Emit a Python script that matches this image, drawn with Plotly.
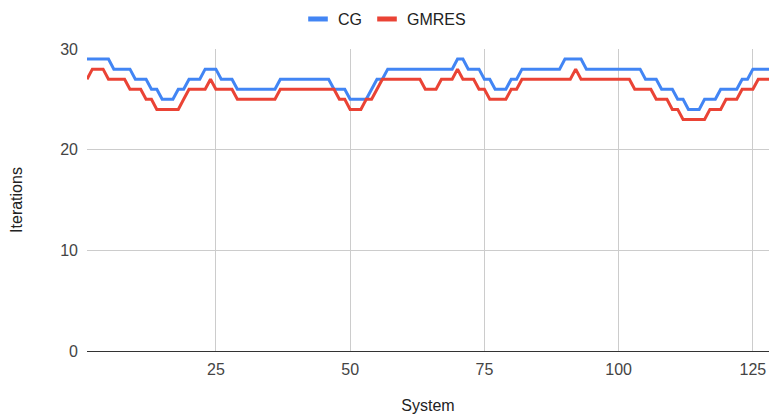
import plotly.graph_objects as go

systems = list(range(1, 129))

cg = (
    [29] * 5 + [28] * 4 + [27] * 3 + [26] * 2 + [25] * 3 + [26] * 2 + [27] * 3 +
    [28] * 3 + [27] * 3 + [26] * 8 + [27] * 10 + [26] * 3 + [25] * 4 + [26] +
    [27] * 2 + [28] * 13 + [29] * 2 + [28] * 3 + [27] * 2 + [26] * 3 + [27] * 2 +
    [28] * 8 + [29] * 4 + [28] * 11 + [27] * 3 + [26] * 3 + [25] * 2 + [24] * 3 +
    [25] * 3 + [26] * 4 + [27] * 2 + [28] * 4
)

gmres = (
    [27] + [28] * 3 + [27] * 4 + [26] * 3 + [25] * 2 + [24] * 5 + [25] + [26] * 4 +
    [27] + [26] * 4 + [25] * 8 + [26] * 11 + [25] * 2 + [24] * 3 + [25] * 2 + [26] +
    [27] * 8 + [26] * 3 + [27] * 3 + [28] + [27] * 3 + [26] * 2 + [25] * 4 +
    [26] * 2 + [27] * 10 + [28] + [27] * 10 + [26] * 4 + [25] * 3 + [24] * 2 +
    [23] * 5 + [24] * 3 + [25] * 3 + [26] * 3 + [27] * 3
)

series_names = ["CG", "GMRES"]
colors = ["#4285F4", "#EA4335"]
x_ticks = [25, 50, 75, 100, 125]
y_ticks = [0, 10, 20, 30]

fig = go.Figure()
for name, vals, col in zip(series_names, [cg, gmres], colors):
    fig.add_trace(go.Scatter(x=systems, y=vals, mode="lines", name=name,
                             line=dict(color=col, width=3), showlegend=False))
    fig.add_trace(go.Scatter(x=[None], y=[None], mode="markers", name=name,
                             marker=dict(symbol="line-ew", size=14,
                                         line=dict(color=col, width=5)),
                             showlegend=True))

font = "Arial, Liberation Sans, sans-serif"
fig.update_layout(
    width=769, height=415,
    margin=dict(l=87, r=0, t=49, b=64),
    paper_bgcolor="white", plot_bgcolor="white",
    font=dict(family=font, size=16, color="#444"),
    legend=dict(orientation="h", x=0.5, xanchor="center", xref="container",
                y=0.995, yanchor="top", yref="container",
                font=dict(size=16, color="#222"),
                itemwidth=30, traceorder="normal"),
    xaxis=dict(range=[1, 128], tickvals=x_ticks, showgrid=True, gridcolor="#cccccc",
               gridwidth=1, zeroline=False, showline=True, linecolor="#333333",
               linewidth=1, ticks="", ticklabelstandoff=4,
               tickfont=dict(size=16, color="#444"),
               title=dict(text="System", font=dict(size=16, color="#222"), standoff=22)),
    yaxis=dict(range=[0, 30], tickvals=y_ticks, showgrid=True, gridcolor="#cccccc",
               gridwidth=1, zeroline=False, showline=False, ticks="",
               ticklabelstandoff=8,
               tickfont=dict(size=16, color="#444"),
               title=dict(text="Iterations", font=dict(size=16, color="#222"), standoff=33)),
)
fig.write_html("out.html")
